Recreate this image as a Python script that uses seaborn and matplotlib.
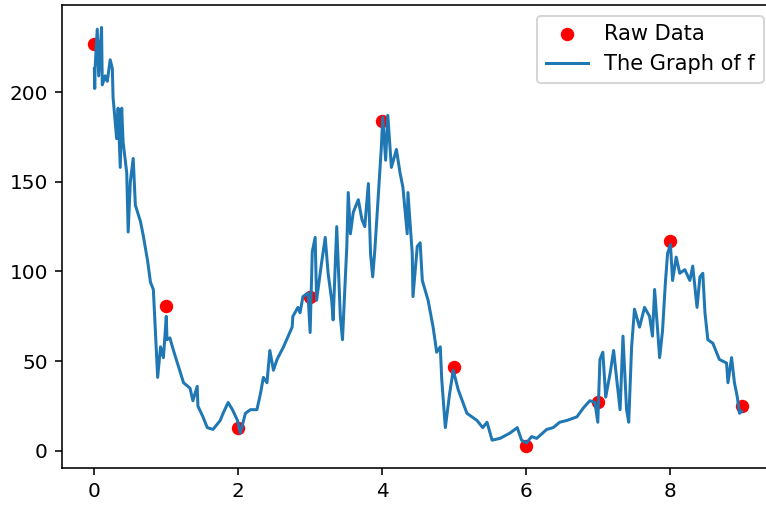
import numpy as np
import pandas as pd
import seaborn as sns
import matplotlib.pyplot as plt

# raw measurements
raw_x = [0, 1, 2, 3, 4, 5, 6, 7, 8, 9]
raw_y = [227, 81, 13, 86, 184, 47, 3, 27, 117, 25]

# the noisy curve f
f_x = [0.00, 0.005, 0.01, 0.04, 0.06, 0.10, 0.11, 0.15, 0.18, 0.22,
       0.25, 0.26, 0.31, 0.33, 0.36, 0.38, 0.40, 0.45, 0.47, 0.50,
       0.54, 0.57, 0.64, 0.68, 0.74, 0.78, 0.82, 0.85, 0.88, 0.92,
       0.96, 1.00, 1.01, 1.05, 1.10, 1.17, 1.24, 1.33, 1.37, 1.43,
       1.44, 1.51, 1.57, 1.65, 1.75, 1.79, 1.86, 1.92, 1.99, 2.03,
       2.10, 2.17, 2.26, 2.31, 2.35, 2.40, 2.44, 2.49, 2.54, 2.63,
       2.75, 2.76, 2.83, 2.86, 2.90, 2.97, 3.00, 3.03, 3.07, 3.09,
       3.16, 3.21, 3.25, 3.30, 3.32, 3.37, 3.42, 3.45, 3.51, 3.53,
       3.56, 3.60, 3.67, 3.72, 3.76, 3.81, 3.84, 3.87, 3.90, 3.95,
       3.99, 4.01, 4.05, 4.08, 4.13, 4.20, 4.25, 4.29, 4.35, 4.36,
       4.42, 4.43, 4.49, 4.53, 4.56, 4.64, 4.71, 4.76, 4.81, 4.83,
       4.88, 4.94, 4.99, 5.06, 5.18, 5.32, 5.40, 5.46, 5.53, 5.64,
       5.78, 5.88, 5.94, 6.01, 6.08, 6.15, 6.29, 6.38, 6.47, 6.57,
       6.71, 6.80, 6.89, 6.96, 7.00, 7.03, 7.07, 7.11, 7.17, 7.22,
       7.26, 7.31, 7.35, 7.40, 7.43, 7.47, 7.51, 7.58, 7.65, 7.72,
       7.76, 7.79, 7.86, 7.90, 7.94, 7.97, 8.01, 8.04, 8.09, 8.14,
       8.21, 8.28, 8.32, 8.38, 8.42, 8.46, 8.49, 8.53, 8.60, 8.69,
       8.79, 8.81, 8.86, 8.90, 8.94, 8.97, 9.00]
f_y = [213, 202, 213, 235, 209, 236, 204, 209, 206, 218,
       213, 197, 174, 191, 158, 191, 172, 155, 122, 150,
       163, 137, 128, 120, 106, 94, 90, 66, 41, 58,
       52, 75, 62, 63, 56, 47, 38, 35, 28, 36,
       25, 19, 13, 12, 17, 21, 27, 23, 17, 10,
       21, 23, 23, 32, 41, 38, 56, 45, 51, 58,
       69, 75, 80, 77, 86, 88, 66, 111, 119, 84,
       105, 119, 99, 84, 73, 125, 75, 62, 114, 144,
       121, 133, 140, 129, 125, 149, 110, 97, 112, 144,
       169, 186, 162, 187, 158, 168, 155, 147, 121, 144,
       110, 86, 114, 116, 95, 84, 69, 55, 58, 40,
       13, 32, 45, 34, 21, 17, 13, 16, 6, 7,
       10, 13, 6, 4.5, 8, 7, 12, 13, 16, 17,
       19, 24, 28, 27, 16, 51, 55, 30, 43, 56,
       41, 23, 64, 23, 16, 58, 79, 69, 80, 75,
       64, 90, 52, 67, 94, 110, 115, 95, 108, 99,
       101, 95, 103, 80, 97, 99, 77, 62, 60, 51,
       49, 38, 52, 38, 30, 21, 22]

raw = pd.DataFrame({"x": raw_x, "y": raw_y})
curve = pd.DataFrame({"x": f_x, "y": f_y})

fig = plt.figure(figsize=(766 / 144, 507 / 144), dpi=144)
ax = fig.add_axes([62 / 766, 39 / 507, 712 / 766, 463 / 507])

sns.scatterplot(data=raw, x="x", y="y", color="red", s=45, linewidth=0,
                label="Raw Data", ax=ax)
sns.lineplot(data=curve, x="x", y="y", estimator=None, sort=False,
             color="#1f77b4", linewidth=1.5, label="The Graph of f", ax=ax)

ax.set_xlim(-0.45, 9.45)
ax.set_ylim(-9.5, 248.5)
ax.set_xlabel("")
ax.set_ylabel("")
ax.legend(loc="upper right", fontsize=10.5)

fig.savefig("out.png", dpi=144)
